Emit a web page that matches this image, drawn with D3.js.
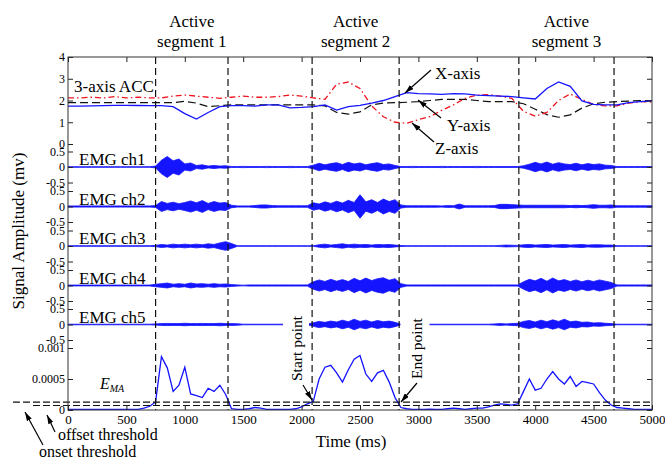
<!DOCTYPE html>
<meta charset="utf-8">
<script src="https://d3js.org/d3.v7.min.js"></script>
<style>
  body { margin: 0; background: #fff; }
  text { font-family: "Liberation Serif", "Times New Roman", serif; fill: #000; }
</style>
<svg width="665" height="460"></svg>
<script>
// ---- data ----
var accStep = 100;   // ms between ACC samples
var accX = [1.74,1.74,1.75,1.76,1.78,1.78,1.77,1.76,1.76,1.72,1.4,1.15,1.45,1.72,1.76,1.76,1.74,1.8,1.8,1.66,
            1.68,1.72,1.8,1.56,1.72,1.78,1.88,2.0,2.18,2.36,2.32,2.3,2.28,2.32,2.3,2.25,2.22,2.2,2.18,2.12,
            2.07,2.55,2.85,2.65,1.98,1.82,1.8,1.8,1.9,1.95,1.98];
var accY = [1.9,1.9,1.9,1.9,1.9,1.9,1.9,1.9,1.9,1.9,1.96,1.88,1.72,1.76,1.8,1.8,1.8,1.8,1.8,1.8,
            1.8,1.8,1.75,1.45,1.37,1.48,1.8,1.88,1.9,1.92,1.95,2.0,2.05,2.05,2.05,2.0,1.95,1.95,1.95,1.85,
            1.6,1.35,1.23,1.34,1.65,1.85,1.92,1.95,1.97,2.0,2.0];
var accZ = [2.12,2.12,2.15,2.12,2.18,2.12,2.15,2.12,2.12,2.2,2.25,2.2,2.15,2.1,2.15,2.2,2.15,2.15,2.18,2.25,
            2.2,2.12,2.05,2.75,2.85,2.55,1.75,1.25,1.0,0.95,1.12,1.26,1.55,1.8,2.1,2.25,2.27,2.2,2.1,1.5,
            1.28,1.45,2.0,2.3,2.05,1.82,1.75,1.75,1.88,1.95,1.93];

var emgStep = 50;    // ms between EMG envelope samples, amplitude in mV
var emg1 = [0.01,0.01,0.01,0.01,0.01,0.01,0.01,0.01,0.01,0.01,0.01,0.01,0.01,0.01,0.01,
            0.03,0.22,0.34,0.2,0.26,0.1,0.13,0.05,0.07,0.03,0.05,0.03,0.04,
            0.015,0.015,0.02,0.015,0.015,0.015,0.02,0.015,0.015,0.015,0.02,0.015,0.015,0.015,
            0.06,0.12,0.07,0.11,0.14,0.08,0.15,0.1,0.13,0.07,0.11,0.14,0.08,0.1,0.05,
            0.015,0.015,0.02,0.015,0.015,0.015,0.015,0.02,0.015,0.015,0.015,0.015,0.015,0.02,0.015,0.015,0.015,0.015,0.015,0.015,0.015,
            0.04,0.09,0.15,0.1,0.16,0.09,0.14,0.1,0.08,0.12,0.07,0.11,0.08,0.1,0.06,0.05,
            0.015,0.015,0.015,0.015,0.015,0.015,0.015];
var emg2 = [0.02,0.02,0.02,0.02,0.02,0.02,0.02,0.02,0.02,0.02,0.02,0.02,0.02,0.02,0.02,
            0.03,0.16,0.1,0.14,0.09,0.13,0.18,0.12,0.19,0.1,0.16,0.11,0.13,
            0.04,0.02,0.02,0.02,0.03,0.05,0.05,0.03,0.025,0.025,0.025,0.025,0.025,0.025,
            0.12,0.08,0.15,0.1,0.17,0.11,0.2,0.13,0.38,0.15,0.22,0.13,0.24,0.16,0.22,
            0.05,0.025,0.025,0.025,0.025,0.025,0.025,0.02,0.03,0.025,0.08,
            0.025,0.025,0.025,0.025,0.025,0.03,0.07,0.07,0.06,0.05,
            0.04,0.04,0.04,0.04,0.04,0.04,0.04,0.04,0.03,0.04,0.03,0.04,0.06,0.04,0.04,0.05,
            0.025,0.025,0.025,0.025,0.025,0.025,0.025];
var emg3 = [0.01,0.01,0.01,0.01,0.01,0.01,0.01,0.01,0.01,0.01,0.01,0.01,0.01,0.01,0.01,
            0.02,0.05,0.03,0.06,0.04,0.06,0.04,0.06,0.04,0.07,0.05,0.1,0.14,0.08,
            0.01,0.01,0.01,0.01,0.01,0.01,0.01,0.01,0.01,0.01,0.01,0.01,0.01,0.01,
            0.04,0.06,0.03,0.05,0.07,0.04,0.06,0.04,0.05,0.03,0.05,0.04,0.05,0.03,
            0.015,0.01,0.01,0.01,0.01,0.01,0.01,0.01,0.01,0.01,0.01,0.01,0.01,0.01,0.01,0.01,0.01,
            0.02,0.03,0.025,0.02,0.04,
            0.05,0.03,0.04,0.05,0.03,0.04,0.05,0.03,0.04,0.05,0.03,0.04,0.04,0.03,0.03,
            0.01,0.01,0.01,0.01,0.01,0.01,0.01];
var emg4 = [0.015,0.015,0.015,0.015,0.015,0.015,0.015,0.015,0.015,0.015,0.015,0.015,0.015,0.015,0.015,
            0.04,0.06,0.08,0.04,0.06,0.04,0.08,0.05,0.06,0.04,0.06,0.04,0.05,
            0.03,0.02,0.01,0.02,0.02,0.02,0.02,0.02,0.02,0.02,0.02,0.02,0.02,0.02,
            0.12,0.18,0.13,0.2,0.14,0.19,0.13,0.23,0.15,0.24,0.16,0.22,0.25,0.17,0.22,
            0.06,0.02,0.02,0.02,0.02,0.02,0.02,0.02,0.02,0.02,0.02,0.02,0.02,0.02,0.02,0.02,0.02,0.02,0.02,0.02,0.02,
            0.12,0.2,0.15,0.23,0.14,0.24,0.15,0.19,0.13,0.18,0.12,0.17,0.13,0.18,0.14,0.1,
            0.02,0.02,0.02,0.02,0.02,0.02,0.02];
var emg5 = [0.01,0.01,0.01,0.01,0.01,0.01,0.01,0.01,0.01,0.01,0.01,0.01,0.01,0.01,0.01,
            0.02,0.03,0.035,0.03,0.03,0.04,0.03,0.03,0.035,0.03,0.03,0.04,0.03,0.03,0.025,
            0.01,0.01,0.01,0.01,0.01,0.01,0.01,0.01,0.01,0.01,0.01,0.01,
            0.06,0.1,0.07,0.11,0.08,0.14,0.09,0.17,0.1,0.14,0.08,0.13,0.09,0.11,0.07,
            0.01,0.01,0.01,0.01,0.01,0.01,0.01,0.01,0.01,0.01,0.01,0.01,0.01,0.01,0.01,0.01,
            0.02,0.03,0.02,0.03,0.04,
            0.1,0.13,0.08,0.14,0.09,0.15,0.1,0.17,0.09,0.11,0.07,0.08,0.05,0.06,0.04,0.03,
            0.01,0.01,0.01,0.01,0.01,0.01,0.01];
var emgChannels = [emg1, emg2, emg3, emg4, emg5];
var emgNames = ["EMG ch1", "EMG ch2", "EMG ch3", "EMG ch4", "EMG ch5"];

var emaStep = 50;    // ms, values in units of 1e-4
var emaUnit = 1e-4;
var ema = [0.1,0.1,0.1,0.1,0.1,0.1,0.1,0.1,0.1,0.1,0.1,0.1,0.1,
           0.3,0.6,1.3,8.6,6.8,3.0,4.0,6.9,2.6,2.3,2.0,3.5,3.0,4.0,2.5,0.2,0.1,0.1,0.2,0.4,0.3,
           0.1,0.1,0.1,0.1,0.1,
           0.2,0.5,1.0,1.4,5.0,6.9,7.2,6.0,4.5,6.5,8.2,8.8,5.8,4.6,6.0,6.4,4.5,2.0,0.4,0.2,
           0.1,0.1,0.1,
           0.15,0.1,0.1,0.2,0.3,0.2,0.1,0.2,0.3,0.3,0.5,0.8,1.0,0.9,0.8,1.0,3.0,5.0,3.2,3.5,5.0,6.2,
           5.0,4.2,5.4,3.8,4.6,4.4,4.2,2.8,1.6,0.8,0.4,0.3,0.2,
           0.1,0.1,0.1,0.1];
var onsetThreshold = 1.27e-4;
var offsetThreshold = 0.72e-4;

var segBounds = [750, 1370, 2090, 2835, 3860, 4675];
var segTitles = ["segment 1", "segment 2", "segment 3"];
var xTicks = d3.range(0, 5001, 500);
var accTicks = [0, 1, 2, 3, 4];
var emgTicks = [-0.5, 0, 0.5];
var emaTicks = [0, 0.0005, 0.001];

// ---- layout ----
var svg = d3.select("svg");
var L = 68, R = 652, T = 57, B = 410;
var blue = "#1414ff", red = "#f0141e";

var x = d3.scaleLinear().domain([0, 5000]).range([L, R]);
var yAcc = d3.scaleLinear().domain([0, 4]).range([144, T]);
var emgZero = [167, 206.5, 246, 285.5, 324.5];
var yEmg = emgZero.map(function(c) {
  return d3.scaleLinear().domain([-0.5, 0.5]).range([c + 15.5, c - 15.5]);
});
var yEma = d3.scaleLinear().domain([0, 0.001]).range([B, 348]);

svg.append("defs").append("marker")
    .attr("id", "arr").attr("viewBox", "0 0 10 6")
    .attr("refX", 10).attr("refY", 3)
    .attr("markerWidth", 9).attr("markerHeight", 5.5)
    .attr("markerUnits", "userSpaceOnUse")
    .attr("orient", "auto")
  .append("path").attr("d", "M0,0L10,3L0,6Z").attr("fill", "#000");

// ACC traces
var accLine = d3.line()
    .x(function(d, i) { return x(i * accStep); })
    .y(function(d) { return yAcc(d); });
svg.append("path").datum(accY).attr("d", accLine)
    .attr("fill", "none").attr("stroke", "#111").attr("stroke-width", 1.2)
    .attr("stroke-dasharray", "8,4");
svg.append("path").datum(accZ).attr("d", accLine)
    .attr("fill", "none").attr("stroke", red).attr("stroke-width", 1.3)
    .attr("stroke-dasharray", "6,3,1.5,3");
svg.append("path").datum(accX).attr("d", accLine)
    .attr("fill", "none").attr("stroke", blue).attr("stroke-width", 1.3);

// EMG envelopes
emgChannels.forEach(function(ch, k) {
  var ys = yEmg[k];
  var area = d3.area()
      .x(function(d, i) { return x(i * emgStep); })
      .y0(function(d) { return ys(-d); })
      .y1(function(d) { return ys(d); });
  svg.append("path").datum(ch).attr("d", area)
      .attr("fill", blue).attr("stroke", blue).attr("stroke-width", 0.8);
});

// EMA
svg.append("path").datum(ema)
    .attr("d", d3.line()
      .x(function(d, i) { return x(i * emaStep); })
      .y(function(d) { return yEma(d * emaUnit); }))
    .attr("fill", "none").attr("stroke", blue).attr("stroke-width", 1.3);

// white boxes behind the rotated labels
svg.append("rect").attr("x", 283).attr("y", 312).attr("width", 26).attr("height", 71).attr("fill", "#fff");
svg.append("rect").attr("x", 400.5).attr("y", 315).attr("width", 29).attr("height", 66).attr("fill", "#fff");

// segment boundaries
svg.append("g").selectAll("line").data(segBounds).enter().append("line")
    .attr("x1", function(d) { return x(d); }).attr("x2", function(d) { return x(d); })
    .attr("y1", T).attr("y2", B)
    .attr("stroke", "#111").attr("stroke-width", 1.2).attr("stroke-dasharray", "7,4");

// thresholds
svg.append("line").attr("x1", 13).attr("x2", R)
    .attr("y1", yEma(onsetThreshold)).attr("y2", yEma(onsetThreshold))
    .attr("stroke", "#111").attr("stroke-width", 1.1).attr("stroke-dasharray", "7,3");
svg.append("line").attr("x1", 33).attr("x2", R)
    .attr("y1", yEma(offsetThreshold)).attr("y2", yEma(offsetThreshold))
    .attr("stroke", "#111").attr("stroke-width", 1.1).attr("stroke-dasharray", "7,3");

// axes
function styleAxis(g) {
  g.select(".domain").remove();
  g.selectAll("line").attr("stroke", "#222");
  g.selectAll("text").attr("font-size", 12)
      .attr("font-family", "'Liberation Serif', 'Times New Roman', serif");
}
var fmt = function(d) { return String(d); };
svg.append("g").attr("transform", "translate(0," + B + ")")
    .call(d3.axisBottom(x).tickValues(xTicks).tickSize(-5).tickPadding(5).tickFormat(fmt)).call(styleAxis)
    .selectAll("text").attr("font-size", 13);
svg.append("g").attr("transform", "translate(0," + T + ")")
    .call(d3.axisTop(x).tickValues(xTicks).tickSize(-5).tickFormat("")).call(styleAxis);

var panels = [{s: yAcc, t: accTicks}, {s: yEma, t: emaTicks}];
yEmg.forEach(function(s) { panels.push({s: s, t: emgTicks}); });
panels.forEach(function(p) {
  svg.append("g").attr("transform", "translate(" + L + ",0)")
      .call(d3.axisLeft(p.s).tickValues(p.t).tickSize(-5).tickPadding(3).tickFormat(fmt)).call(styleAxis);
  svg.append("g").attr("transform", "translate(" + R + ",0)")
      .call(d3.axisRight(p.s).tickValues(p.t).tickSize(-5).tickFormat("")).call(styleAxis);
});

svg.append("rect").attr("x", L).attr("y", T).attr("width", R - L).attr("height", B - T)
    .attr("fill", "none").attr("stroke", "#333").attr("stroke-width", 1);

// titles
segTitles.forEach(function(t, i) {
  var cx = x((segBounds[2 * i] + segBounds[2 * i + 1]) / 2);
  svg.append("text").attr("x", cx).attr("y", 27).attr("text-anchor", "middle")
      .attr("font-size", 17).text("Active");
  svg.append("text").attr("x", cx).attr("y", 47).attr("text-anchor", "middle")
      .attr("font-size", 17).text(t);
});

svg.append("text").attr("transform", "translate(24,231) rotate(-90)")
    .attr("text-anchor", "middle").attr("font-size", 17).text("Signal Amplitude (mv)");
svg.append("text").attr("x", 351).attr("y", 447).attr("text-anchor", "middle")
    .attr("font-size", 17).text("Time (ms)");

// panel labels
svg.append("text").attr("x", 74).attr("y", 92).attr("font-size", 17).text("3-axis ACC");
emgNames.forEach(function(n, k) {
  svg.append("text").attr("x", 79).attr("y", emgZero[k] - 2).attr("font-size", 17).text(n);
});
var emaLabel = svg.append("text").attr("x", 100).attr("y", 389)
    .attr("font-size", 16).attr("font-style", "italic");
emaLabel.append("tspan").text("E");
emaLabel.append("tspan").attr("dy", 3).attr("font-size", 10).text("MA");

// annotations
function arrow(x1, y1, x2, y2) {
  svg.append("line").attr("x1", x1).attr("y1", y1).attr("x2", x2).attr("y2", y2)
      .attr("stroke", "#000").attr("stroke-width", 1.2).attr("marker-end", "url(#arr)");
}
svg.append("text").attr("x", 435).attr("y", 79).attr("font-size", 17).text("X-axis");
svg.append("text").attr("x", 447).attr("y", 131).attr("font-size", 17).text("Y-axis");
svg.append("text").attr("x", 435).attr("y", 154).attr("font-size", 17).text("Z-axis");
arrow(431, 70, 405, 93);
arrow(441, 118, 418, 100);
arrow(434, 142, 412, 123);

svg.append("text").attr("transform", "translate(302,381) rotate(-90)")
    .attr("font-size", 15.5).text("Start point");
svg.append("text").attr("transform", "translate(422,379) rotate(-90)")
    .attr("font-size", 15.5).text("End point");
arrow(303, 385, 312, 400);
arrow(417, 383, 401, 402);

svg.append("text").attr("x", 58).attr("y", 440).attr("font-size", 16).text("offset threshold");
svg.append("text").attr("x", 39).attr("y", 457).attr("font-size", 16).text("onset threshold");
arrow(55, 432, 47, 415);
arrow(43, 445, 25, 412);
</script>
